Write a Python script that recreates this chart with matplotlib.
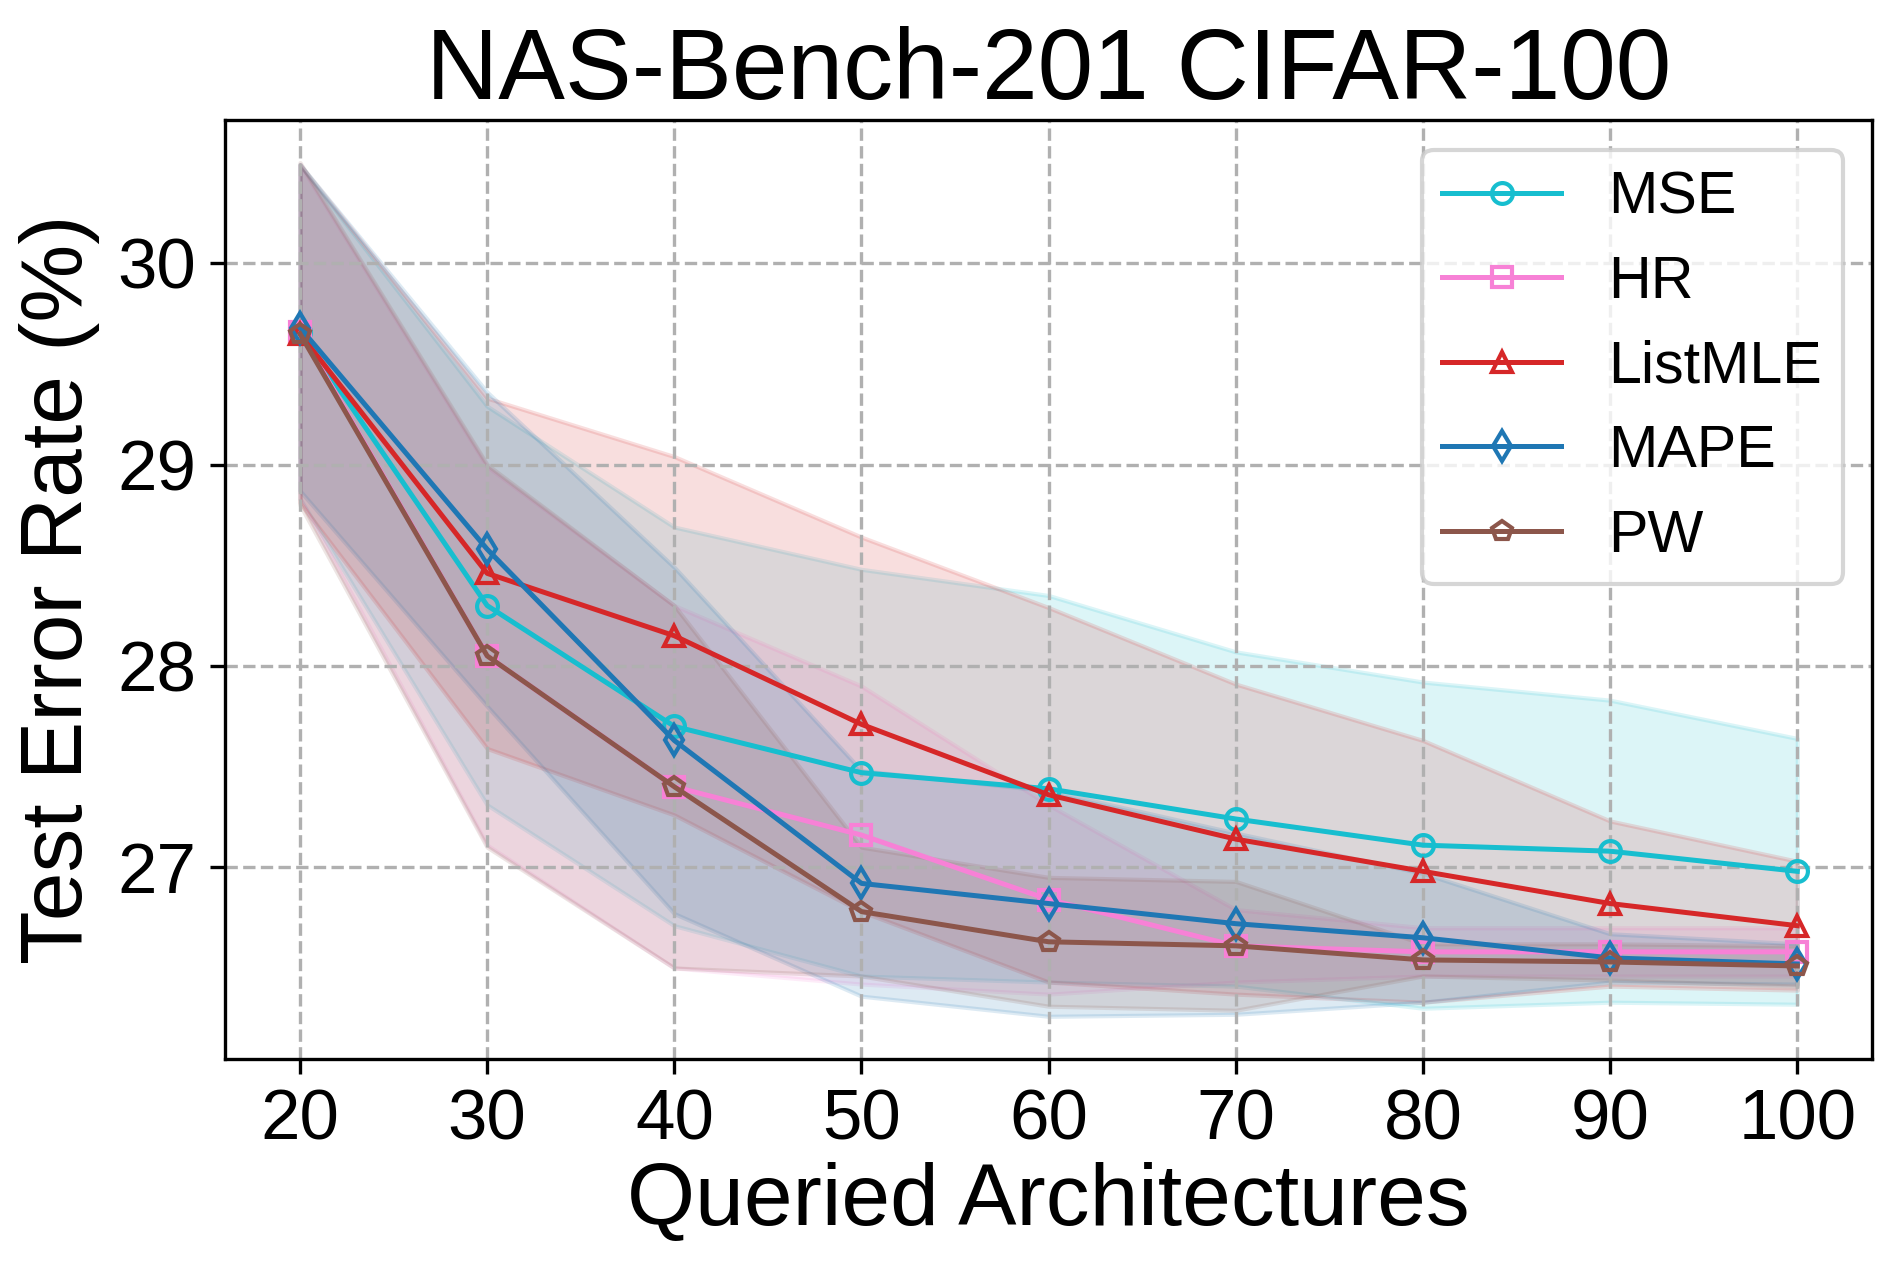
import numpy as np
import matplotlib
matplotlib.use("Agg")
import matplotlib.pyplot as plt

plt.rcParams['font.family'] = ['Liberation Sans', 'DejaVu Sans']

# Data
queries = [20, 30, 40, 50, 60, 70, 80, 90, 100]

methods = ["MSE", "HR", "ListMLE", "MAPE", "PW"]

mse_mean = [29.66, 28.30, 27.70, 27.47, 27.39, 27.24, 27.11, 27.08, 26.98]
mse_std = [0.83, 0.99, 0.99, 1.01, 0.96, 0.83, 0.81, 0.75, 0.66]

hr_mean = [29.66, 28.05, 27.40, 27.16, 26.84, 26.61, 26.58, 26.58, 26.58]
hr_std = [0.83, 0.94, 0.90, 0.74, 0.47, 0.18, 0.12, 0.12, 0.12]

listmle_mean = [29.65, 28.46, 28.15, 27.71, 27.36, 27.14, 26.98, 26.82, 26.71]
listmle_std = [0.84, 0.87, 0.89, 0.93, 0.93, 0.77, 0.65, 0.41, 0.32]

mape_mean = [29.68, 28.58, 27.63, 26.92, 26.82, 26.72, 26.65, 26.55, 26.52]
mape_std = [0.81, 0.78, 0.86, 0.56, 0.56, 0.45, 0.32, 0.12, 0.10]

pw_mean = [29.65, 28.05, 27.40, 26.78, 26.63, 26.61, 26.54, 26.53, 26.51]
pw_std = [0.85, 0.95, 0.90, 0.32, 0.32, 0.32, 0.08, 0.09, 0.10]

means = [mse_mean, hr_mean, listmle_mean, mape_mean, pw_mean]
stds = [mse_std, hr_std, listmle_std, mape_std, pw_std]
colors = ['#17becf', '#f781d6', '#d62728', '#1f77b4', '#8c564b']
markers = ['o', 's', '^', 'd', 'p']

fig = plt.figure(figsize=(1903 / 300, 1269 / 300), dpi=300)
ax = fig.add_axes([0.1183, 0.1655, 0.8655, 0.740])

x = np.array(queries)
for name, m, s, c, mk in zip(methods, means, stds, colors, markers):
    m = np.array(m)
    s = np.array(s)
    ax.fill_between(x, m - s, m + s, color=c, alpha=0.15)
    ax.plot(x, m, color=c, marker=mk, markersize=5, markerfacecolor='none',
            markeredgewidth=1.0, linewidth=1.2, label=name)

ax.set_xticks(queries)
ax.tick_params(labelsize=17)
ax.set_yticks([27, 28, 29, 30])
ax.grid(True, linestyle='--', color='#b0b0b0', linewidth=0.8)
ax.set_xlabel("Queried Architectures", fontsize=21, labelpad=2)
ax.set_ylabel("Test Error Rate (%)", fontsize=21, labelpad=4)
ax.set_title("NAS-Bench-201 CIFAR-100", fontsize=24, pad=3.5)
ax.legend(loc='upper right', fontsize=14.2, labelspacing=0.5, handlelength=2.0,
          handletextpad=0.8, borderpad=0.35, borderaxespad=0.5)

fig.savefig("out.png", dpi=300)
